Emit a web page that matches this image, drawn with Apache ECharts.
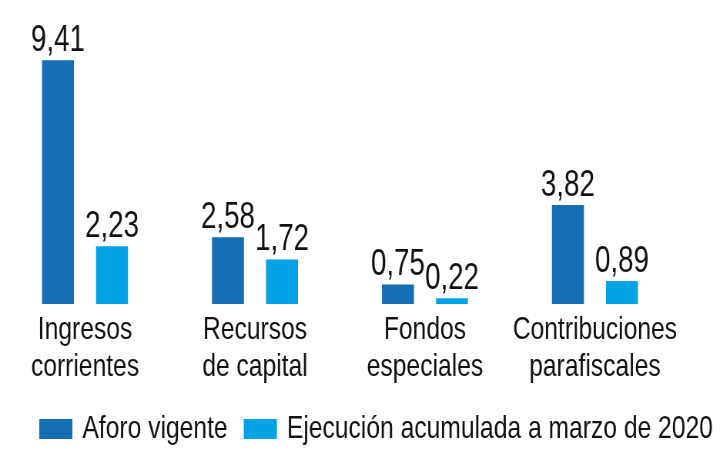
<!DOCTYPE html>
<html lang="es">
<head>
    <meta charset="UTF-8">
    <title>Ingresos</title>
    <script src="https://cdn.jsdelivr.net/npm/echarts@6/dist/echarts.min.js"></script>
    <style>
        html, body { margin: 0; padding: 0; background: #fff; overflow: hidden; }
        /* la figura original tiene el texto estrechado: se dibuja mas ancha y se comprime */
        #chart {
            width: 935px;
            height: 453px;
            transform: scaleX(0.77);
            transform-origin: 0 0;
        }
    </style>
</head>
<body>
    <div id="chart"></div>
    <script>
        var categories = ['Ingresos\ncorrientes', 'Recursos\nde capital', 'Fondos\nespeciales', 'Contribuciones\nparafiscales'];
        var aforo = [9.41, 2.58, 0.75, 3.82];
        var ejecucion = [2.23, 1.72, 0.22, 0.89];
        var seriesNames = ['Aforo vigente', 'Ejecución acumulada a marzo de 2020'];

        var font = '"Liberation Sans", Arial, sans-serif';
        var chart = echarts.init(document.getElementById('chart'));

        // etiqueta con coma decimal
        function fmt(p) {
            return p.value.toFixed(2).replace('.', ',');
        }
        var label = {
            show: true,
            position: 'top',
            distance: 1,
            color: '#111',
            fontFamily: font,
            fontSize: 36,
            formatter: fmt
        };

        chart.setOption({
            animation: false,
            color: ['#156db4', '#03a2e4'],
            grid: { left: -5, width: 888, top: 45, bottom: 149 },
            legend: {
                left: 51,
                top: 413,
                width: 884,
                padding: 0,
                itemWidth: 43,
                itemHeight: 20,
                itemGap: 21,
                icon: 'rect',
                textStyle: { fontFamily: font, fontSize: 32, color: '#111', padding: [0, 0, 0, 8] },
                data: seriesNames
            },
            xAxis: {
                type: 'category',
                data: categories,
                axisLine: { show: false },
                axisTick: { show: false },
                axisLabel: {
                    interval: 0,
                    margin: 8,
                    fontFamily: font,
                    fontSize: 32,
                    lineHeight: 37,
                    color: '#111'
                }
            },
            yAxis: {
                type: 'value',
                min: 0,
                max: 10,
                show: false
            },
            series: [
                {
                    name: seriesNames[0],
                    type: 'bar',
                    barWidth: 41.5,
                    barGap: '69%',
                    label: label,
                    data: aforo
                },
                {
                    name: seriesNames[1],
                    type: 'bar',
                    barWidth: 41.5,
                    label: label,
                    data: ejecucion
                }
            ]
        });
    </script>
</body>
</html>
